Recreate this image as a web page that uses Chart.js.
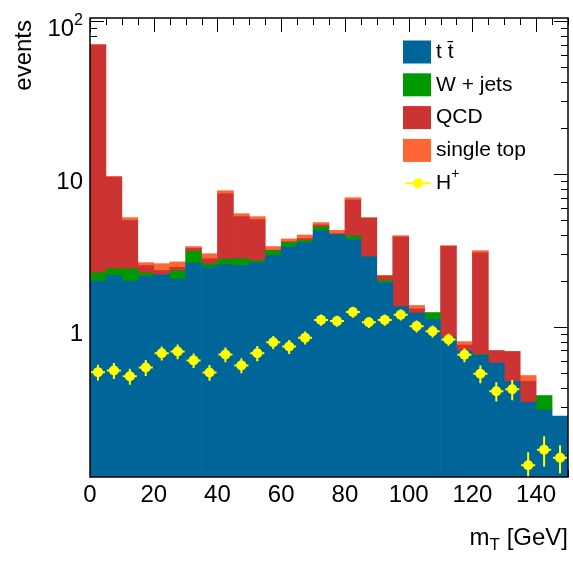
<!DOCTYPE html>
<html>
<head>
<meta charset="utf-8">
<script src="https://cdn.jsdelivr.net/npm/chart.js@4.4.0/dist/chart.umd.min.js"></script>
<style>
  html, body { margin: 0; padding: 0; background: #fff; }
  canvas { display: block; }
</style>
</head>
<body>
<canvas id="mtChart" width="573" height="561"></canvas>
<script>
// transverse mass bins, 5 GeV wide (bin centres)
const mtBins = [2.5, 7.5, 12.5, 17.5, 22.5, 27.5, 32.5, 37.5, 42.5, 47.5,
                52.5, 57.5, 62.5, 67.5, 72.5, 77.5, 82.5, 87.5, 92.5, 97.5,
                102.5, 107.5, 112.5, 117.5, 122.5, 127.5, 132.5, 137.5, 142.5, 147.5]

// backgrounds, stacked bottom to top
const ttbar = [1.99, 2.17, 1.99, 2.14, 2.20, 2.06, 2.61, 2.47, 2.55, 2.53,
               2.62, 2.94, 3.35, 3.56, 4.26, 4.01, 3.72, 2.88, 1.95, 1.36,
               1.23, 1.12, 0.85, 0.70, 0.65, 0.58, 0.44, 0.32, 0.285, 0.26]
const wjets = [0.27, 0.23, 0.41, 0.11, 0.0, 0.27, 0.51, 0.12, 0.22, 0.26,
               0.09, 0.21, 0.21, 0.12, 0.25, 0.02, 0.22, 0.0, 0.06, 0.0,
               0.0, 0.12, 0.0, 0.0, 0.01, 0.0, 0.0, 0.0, 0.07, 0.0]
const qcd = [67.7, 7.15, 2.57, 0.27, 0.14, 0.12, 0.14, 0.20, 4.69, 2.47,
             2.32, 0.02, 0.05, 0.11, 0.13, 0.04, 2.82, 2.27, 0.14, 2.51,
             0.08, 0.0, 2.51, 0.06, 2.39, 0.12, 0.25, 0.12, 0.0, 0.0]
const singleTop = [0.2, 0.09, 0.21, 0.11, 0.25, 0.21, 0.09, 0.22, 0.32, 0.24,
                   0.23, 0.18, 0.15, 0.20, 0.17, 0.21, 0.24, 0.03, 0.02, 0.08,
                   0.07, 0.0, 0.04, 0.04, 0.10, 0.0, 0.0, 0.04, 0.0, 0.0]

// charged higgs signal with errors
const hplus = [0.505, 0.518, 0.475, 0.542, 0.672, 0.690, 0.603, 0.503, 0.659, 0.559,
               0.672, 0.793, 0.743, 0.848, 1.11, 1.09, 1.25, 1.07, 1.11, 1.20,
               1.01, 0.936, 0.826, 0.656, 0.493, 0.379, 0.390, 0.124, 0.157, 0.139]
const hplusErr = [0.059, 0.062, 0.057, 0.065, 0.071, 0.076, 0.066, 0.059, 0.072, 0.063,
                  0.076, 0.078, 0.078, 0.083, 0.092, 0.090, 0.103, 0.089, 0.092, 0.099,
                  0.091, 0.085, 0.075, 0.069, 0.065, 0.055, 0.059, 0.027, 0.035, 0.029]

const xTickVals = [0, 20, 40, 60, 80, 100, 120, 140]
const yTickVals = [1, 10, 100]
const yTickText = ['1', '10', '10']
const yTickSup = ['', '', '2']

const seriesNames = ['t t\u0304', 'W + jets', 'QCD', 'single top']
const stackColors = ['#006699', '#009900', '#cc3333', '#ff6633']
const signalColor = '#ffff00'

const FONT = '"Liberation Sans", Arial, Helvetica, sans-serif'

const stackSeries = [ttbar, wjets, qcd, singleTop]
const barSets = stackSeries.map((vals, k) => ({
    type: 'bar',
    label: seriesNames[k],
    data: vals.map((v, i) => ({ x: mtBins[i], y: v })),
    backgroundColor: stackColors[k],
    borderWidth: 0,
    barPercentage: 1,
    categoryPercentage: 1,
    order: 1
}))

const signalSet = {
    type: 'scatter',
    label: 'H+',
    stack: 'signal',
    data: hplus.map((v, i) => ({ x: mtBins[i], y: v })),
    backgroundColor: signalColor,
    borderColor: signalColor,
    pointRadius: 5,
    pointBorderWidth: 0,
    showLine: false,
    order: 0
}

// tick marks drawn inside the frame, before the histograms cover them
const tickMarks = {
    id: 'tickMarks',
    beforeDatasetsDraw(chart) {
        const { ctx, chartArea: a, scales: { x, y } } = chart
        ctx.save()
        ctx.strokeStyle = '#000'
        ctx.lineWidth = 1
        ctx.beginPath()
        for (let v = x.min; v <= x.max; v += 5) {
            const px = Math.round(x.getPixelForValue(v)) + 0.5
            const len = xTickVals.includes(v) ? 14 : 7
            ctx.moveTo(px, a.top); ctx.lineTo(px, a.top + len)
            ctx.moveTo(px, a.bottom); ctx.lineTo(px, a.bottom - len)
        }
        for (let e = -1; e <= 2; e++) {
            for (let m = 1; m <= 9; m++) {
                const v = m * Math.pow(10, e)
                if (v < y.min || v > y.max) continue
                const py = Math.round(y.getPixelForValue(v)) + 0.5
                const len = m === 1 ? 14 : 7
                ctx.moveTo(a.left, py); ctx.lineTo(a.left + len, py)
                ctx.moveTo(a.right, py); ctx.lineTo(a.right - len, py)
            }
        }
        ctx.stroke()
        ctx.restore()
    }
}

// error bars under the signal markers
const errorBars = {
    id: 'errorBars',
    beforeDatasetDraw(chart, args) {
        if (args.meta.type !== 'scatter') return
        const { ctx, chartArea: a, scales: { x, y } } = chart
        ctx.save()
        ctx.beginPath()
        ctx.rect(a.left, a.top, a.right - a.left, a.bottom - a.top)
        ctx.clip()
        ctx.strokeStyle = signalColor
        ctx.lineWidth = 2
        ctx.beginPath()
        hplus.forEach((v, i) => {
            const px = x.getPixelForValue(mtBins[i])
            const py = y.getPixelForValue(v)
            const lo = v - hplusErr[i]
            const top = y.getPixelForValue(v + hplusErr[i])
            const bot = lo > 0 ? y.getPixelForValue(lo) : a.bottom + 5
            ctx.moveTo(px, top); ctx.lineTo(px, bot)
            ctx.moveTo(x.getPixelForValue(mtBins[i] - 2.2), py)
            ctx.lineTo(x.getPixelForValue(mtBins[i] + 2.2), py)
        })
        ctx.stroke()
        ctx.restore()
    }
}

// frame, axis labels, titles and legend
const decorations = {
    id: 'decorations',
    afterDraw(chart) {
        const { ctx, chartArea: a, scales: { x, y } } = chart
        ctx.save()
        ctx.strokeStyle = '#000'
        ctx.lineWidth = 1.5
        ctx.strokeRect(a.left, a.top, a.right - a.left, a.bottom - a.top)

        ctx.fillStyle = '#000'
        ctx.textBaseline = 'middle'

        // x tick labels
        ctx.font = '24px ' + FONT
        ctx.textAlign = 'center'
        xTickVals.forEach(v => ctx.fillText(String(v), x.getPixelForValue(v), 495))

        // y tick labels, right aligned
        yTickVals.forEach((v, i) => {
            const py = y.getPixelForValue(v) + 8
            let right = 83
            if (yTickSup[i]) {
                ctx.font = '16px ' + FONT
                ctx.textAlign = 'right'
                ctx.fillText(yTickSup[i], right, py - 9)
                right -= ctx.measureText(yTickSup[i]).width
            }
            ctx.font = '24px ' + FONT
            ctx.textAlign = 'right'
            ctx.fillText(yTickText[i], right, py)
        })

        // x axis title: m_T [GeV]
        const tail = ' [GeV]'
        ctx.font = '24px ' + FONT
        const tailW = ctx.measureText(tail).width
        ctx.font = '17px ' + FONT
        const subW = ctx.measureText('T').width
        ctx.font = '24px ' + FONT
        const mW = ctx.measureText('m').width
        let tx = a.right - tailW - subW - mW
        ctx.textAlign = 'left'
        ctx.fillText('m', tx, 538)
        ctx.font = '17px ' + FONT
        ctx.fillText('T', tx + mW, 545)
        ctx.font = '24px ' + FONT
        ctx.fillText(tail, tx + mW + subW, 538)

        // y axis title
        ctx.save()
        ctx.translate(24, 20)
        ctx.rotate(-Math.PI / 2)
        ctx.textAlign = 'right'
        ctx.fillText('events', 0, 0)
        ctx.restore()

        // legend
        const rowY = k => 52 + k * 32.8
        ctx.font = '21px ' + FONT
        ctx.textAlign = 'left'
        seriesNames.forEach((name, k) => {
            ctx.fillStyle = stackColors[k]
            ctx.fillRect(403, rowY(k) - 11.5, 28, 23)
            ctx.fillStyle = '#000'
            ctx.fillText(name, 436, rowY(k))
        })
        const ySig = rowY(4)
        ctx.strokeStyle = signalColor
        ctx.lineWidth = 2
        ctx.beginPath()
        ctx.moveTo(405, ySig); ctx.lineTo(431, ySig)
        ctx.stroke()
        ctx.fillStyle = signalColor
        ctx.beginPath()
        ctx.arc(418, ySig, 5, 0, Math.PI * 2)
        ctx.fill()
        ctx.fillStyle = '#000'
        ctx.fillText('H', 436, ySig)
        const hW = ctx.measureText('H').width
        ctx.font = '14px ' + FONT
        ctx.fillText('+', 436 + hW, ySig - 9)

        ctx.restore()
    }
}

const ctx = document.getElementById('mtChart').getContext('2d')
const mtChart = new Chart(ctx, {
    type: 'bar',
    data: {
        datasets: [...barSets, signalSet]
    },
    options: {
        responsive: false,
        animation: false,
        devicePixelRatio: 1,
        layout: {
            padding: { left: 90, right: 4, top: 18, bottom: 84 }
        },
        plugins: {
            legend: { display: false },
            tooltip: { enabled: false }
        },
        scales: {
            x: {
                type: 'linear',
                display: false,
                min: 0,
                max: 150,
                offset: false,
                stacked: true
            },
            y: {
                type: 'logarithmic',
                display: false,
                min: 0.104,
                max: 105,
                stacked: true
            }
        }
    },
    plugins: [tickMarks, errorBars, decorations]
})
</script>
</body>
</html>
